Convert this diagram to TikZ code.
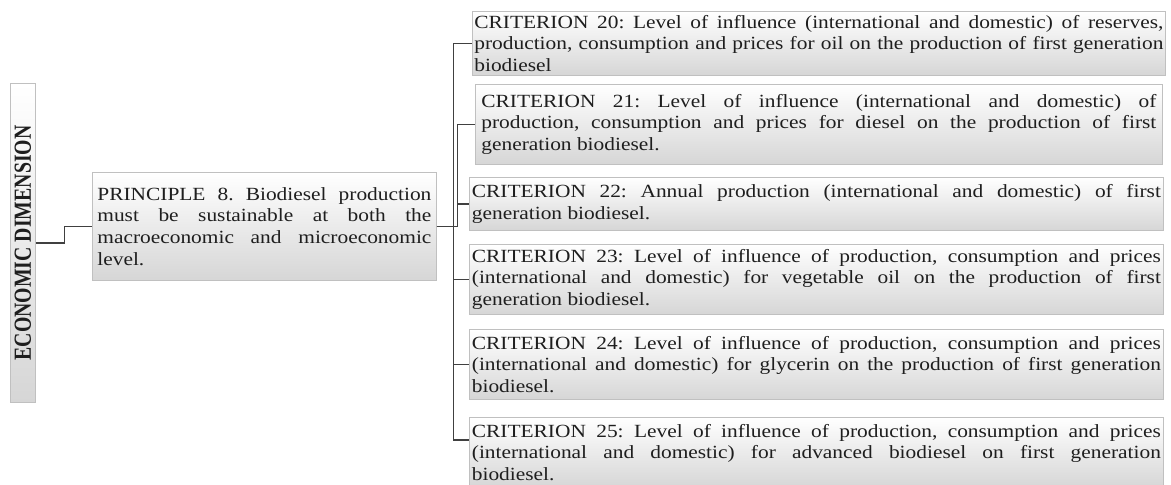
\documentclass[tikz,border=0pt]{standalone}
\usepackage{fontspec}
\usepackage{graphicx}
\setmainfont{Liberation Serif}[FakeStretch=1.15]
\newfontfamily\dimfont{Liberation Serif}
\definecolor{boxline}{RGB}{192,192,192}
\definecolor{boxshade}{RGB}{214,214,214}
\definecolor{linkgray}{RGB}{64,64,64}
\definecolor{inkgray}{RGB}{30,30,30}
\newcommand{\critfont}{\fontsize{18.6}{21.7}\selectfont}
\tikzset{
	critbox/.style={draw=boxline, line width=0.8pt, top color=white, bottom color=boxshade, anchor=north west, inner sep=0pt, align=justify, font=\critfont, text=inkgray},
	link/.style={draw=linkgray, line width=1.3pt},
}

\begin{document}
\frenchspacing
\begin{tikzpicture}[x=1pt,y=1pt,yscale=-1,xscale=1]
		\useasboundingbox (0,0) rectangle (1171,485);
		\node [critbox, align=center, minimum width=25pt, minimum height=319pt] (dim) at (10,83) {\rotatebox{90}{\scalebox{1}[1.24]{\dimfont\bfseries\fontsize{19.8}{22}\selectfont ECONOMIC DIMENSION}}};
		\node [critbox, minimum width=344pt, minimum height=108pt, text width=334pt] (prin) at (92,172) {PRINCIPLE 8. Biodiesel production\linebreak must be sustainable at both the\linebreak macroeconomic and microeconomic\linebreak level.};
		\node [critbox, minimum width=693pt, minimum height=64pt, text width=689pt] (c20) at (472,11) {CRITERION 20: Level of influence (international and domestic) of reserves,\linebreak production, consumption and prices for oil on the production of first generation\linebreak biodiesel};
		\node [critbox, minimum width=687pt, minimum height=80pt, text width=675pt] (c21) at (475,84) {CRITERION 21: Level of influence (international and domestic) of\linebreak production, consumption and prices for diesel on the production of first\linebreak generation biodiesel.};
		\node [critbox, minimum width=694pt, minimum height=53pt, text width=689pt] (c22) at (469,177) {CRITERION 22: Annual production (international and domestic) of first\linebreak generation biodiesel.};
		\node [critbox, minimum width=694pt, minimum height=70pt, text width=689pt] (c23) at (469,244) {CRITERION 23: Level of influence of production, consumption and prices\linebreak (international and domestic) for vegetable oil on the production of first\linebreak generation biodiesel.};
		\node [critbox, minimum width=694pt, minimum height=70pt, text width=689pt] (c24) at (469,329) {CRITERION 24: Level of influence of production, consumption and prices\linebreak (international and domestic) for glycerin on the production of first generation\linebreak biodiesel.};
		\node [critbox, minimum width=694pt, minimum height=70pt, text width=689pt] (c25) at (469,417) {CRITERION 25: Level of influence of production, consumption and prices\linebreak (international and domestic) for advanced biodiesel on first generation\linebreak biodiesel.};
		\draw [link] (dim.east) -- ++(29,0) |- (prin.west) ;
		\draw [link] (prin.east) -- ++(17,0) |- (c20.west) ;
		\draw [link] (prin.east) -- ++(21,0) |- (c21.west) ;
		\draw [link] (prin.east) -- ++(21,0) |- (c22.west) ;
		\draw [link] (prin.east) -- ++(17,0) |- (c23.west) ;
		\draw [link] (prin.east) -- ++(17,0) |- (c24.west) ;
		\draw [link] (prin.east) -- ++(17,0) |- (c25.west |- 0,440) ;
	\end{tikzpicture}
\end{document}
